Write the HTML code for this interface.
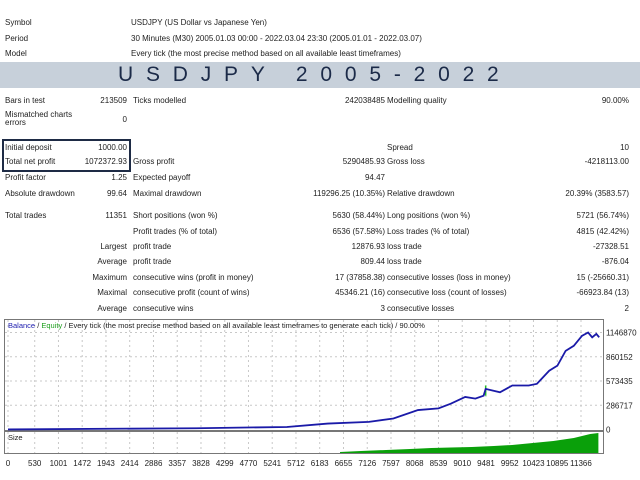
<!DOCTYPE html>
<html><head><meta charset="utf-8"><style>
*{margin:0;padding:0;box-sizing:border-box}
body{width:640px;height:480px;background:#fff;position:relative;overflow:hidden;font-family:"Liberation Sans",sans-serif;font-size:8px;color:#222}
.t{position:absolute;white-space:nowrap;line-height:10px}
.r{text-align:right}
#banner{position:absolute;left:0;top:62px;width:640px;height:26px;background:#c7d0da}
#banner span{position:absolute;left:118px;top:2px;font-size:21px;letter-spacing:12.8px;color:#1b2a48;line-height:22px}
#box{position:absolute;left:2px;top:139px;width:129px;height:33px;border:2px solid #1e2b45}
</style></head><body>
<div class="t" style="left:5px;top:18px">Symbol</div>
<div class="t" style="left:131px;top:18px">USDJPY (US Dollar vs Japanese Yen)</div>
<div class="t" style="left:5px;top:34px">Period</div>
<div class="t" style="left:131px;top:34px">30 Minutes (M30) 2005.01.03 00:00 - 2022.03.04 23:30 (2005.01.01 - 2022.03.07)</div>
<div class="t" style="left:5px;top:49px">Model</div>
<div class="t" style="left:131px;top:49px">Every tick (the most precise method based on all available least timeframes)</div>
<div id="banner"><span>USDJPY 2005-2022</span></div>
<div id="box"></div>
<div id="rows"></div>
<svg id="chart" width="640" height="480" style="position:absolute;left:0;top:0"></svg>
<script>
var rows=[
[96,"Bars in test","213509","Ticks modelled","242038485","Modelling quality","90.00%"],
[143,"Initial deposit","1000.00","","","Spread","10"],
[157,"Total net profit","1072372.93","Gross profit","5290485.93","Gross loss","-4218113.00"],
[173,"Profit factor","1.25","Expected payoff","94.47","",""],
[189,"Absolute drawdown","99.64","Maximal drawdown","119296.25 (10.35%)","Relative drawdown","20.39% (3583.57)"],
[211,"Total trades","11351","Short positions (won %)","5630 (58.44%)","Long positions (won %)","5721 (56.74%)"],
[227,"","","Profit trades (% of total)","6536 (57.58%)","Loss trades (% of total)","4815 (42.42%)"],
[242,"","Largest","profit trade","12876.93","loss trade","-27328.51"],
[257,"","Average","profit trade","809.44","loss trade","-876.04"],
[273,"","Maximum","consecutive wins (profit in money)","17 (37858.38)","consecutive losses (loss in money)","15 (-25660.31)"],
[288,"","Maximal","consecutive profit (count of wins)","45346.21 (16)","consecutive loss (count of losses)","-66923.84 (13)"],
[304,"","Average","consecutive wins","3","consecutive losses","2"]];
var R=document.getElementById('rows');
function add(txt,x,y,right,name){if(!txt)return;var d=document.createElement('div');d.className='t'+(right?' r':'');
d.style.top=y+'px';if(right){d.style.right=(640-x)+'px';}else d.style.left=x+'px';d.textContent=txt;


R.appendChild(d);}
rows.forEach(function(r,i){add(r[1],5,r[0],false,'stat-label');add(r[2],127,r[0],true,'stat-value');add(r[3],133,r[0],false,'stat-label');add(r[4],385,r[0],true,'stat-value');add(r[5],387,r[0],false,'stat-label');add(r[6],629,r[0],true,'stat-value');});
add("Mismatched charts",5,110,false,'stat-label');add("errors",5,118,false,'stat-label');add("0",127,115,true,'stat-value');

// chart data
var trades=[0,3743,5532,6345,7158,7645,8133,8539,8783,9069,9271,9434,9475,9759,10003,10329,10491,10735,10898,11061,11223,11386,11507,11588,11670,11727];
var balance=[1000,15000,30000,70000,90000,130000,230000,250000,305000,385000,365000,400000,480000,440000,520000,520000,540000,695000,755000,930000,990000,1108000,1147000,1090000,1130000,1090000];
var yTicks=[0,286717,573435,860152,1146870];
var xTicks=[0,530,1001,1472,1943,2414,2886,3357,3828,4299,4770,5241,5712,6183,6655,7126,7597,8068,8539,9010,9481,9952,10423,10895,11366];
var sizeTrades=[6586,7000,7500,7974,8400,8783,9200,9637,10000,10410,10817,11223,11549,11711];
var sizeVals=[1,2,3,4,5,5.5,6,7,8,10,12,15,19,20];
var S=document.getElementById('chart'),NS='http://www.w3.org/2000/svg';
function el(t,a,name){var e=document.createElementNS(NS,t);for(var k in a)e.setAttribute(k,a[k]);


S.appendChild(e);return e;}
function X(t){return 8+t*(573/11366);}
function Y(v){return 429.5-v*(97/1146870);}
function YS(v){return 453-v;}
el('rect',{x:4.5,y:319.5,width:599,height:111,fill:'#fff',stroke:'#777'},'main-plot-frame');
el('rect',{x:4.5,y:431.5,width:599,height:22,fill:'#fff',stroke:'#777'},'size-plot-frame');
xTicks.forEach(function(t){var x=X(t);
el('line',{x1:x,y1:320,x2:x,y2:430,stroke:'#c8c8c8','stroke-dasharray':'2,3'},'x-grid-line');
el('line',{x1:x,y1:432,x2:x,y2:453,stroke:'#c8c8c8','stroke-dasharray':'2,3'},'x-grid-line');
var tx=el('text',{x:x,y:466,'font-size':'8','text-anchor':'middle',fill:'#222','font-family':'Liberation Sans'},'x-tick-label');tx.textContent=t;});
yTicks.forEach(function(v){var y=Y(v);
if(v>0)el('line',{x1:5,y1:y,x2:603,y2:y,stroke:'#c8c8c8','stroke-dasharray':'2,3'},'y-grid-line');
var tx=el('text',{x:606,y:y+3,'font-size':'8',fill:'#222','font-family':'Liberation Sans'},'y-tick-label');tx.textContent=v;});
var sp=[X(sizeTrades[0])+','+YS(0)];
sizeTrades.forEach(function(t,i){sp.push(X(t)+','+YS(sizeVals[i]));});
sp.push(X(sizeTrades[sizeTrades.length-1])+','+YS(0));
el('polygon',{points:sp.join(' '),fill:'#0aa00a'},'size-bars');
var p=trades.map(function(t,i){return X(t)+','+Y(balance[i]);}).join(' ');
el('line',{x1:X(9475),y1:Y(400000),x2:X(9475),y2:Y(520000),stroke:'#22c022','stroke-width':1.5},'equity-spike');
el('polyline',{points:p,fill:'none',stroke:'#1a1aa8','stroke-width':1.8},'balance-line');
var lg=el('text',{x:8,y:328,'font-size':'7.5','font-family':'Liberation Sans',fill:'#222'},'chart-legend');
lg.innerHTML='<tspan fill="#2020b0">Balance</tspan> / <tspan fill="#20a020">Equity</tspan> / Every tick (the most precise method based on all available least timeframes to generate each tick) / 90.00%';
var sz=el('text',{x:8,y:440,'font-size':'7.5','font-family':'Liberation Sans',fill:'#222'},'size-label');sz.textContent='Size';
</script>
</body></html>
